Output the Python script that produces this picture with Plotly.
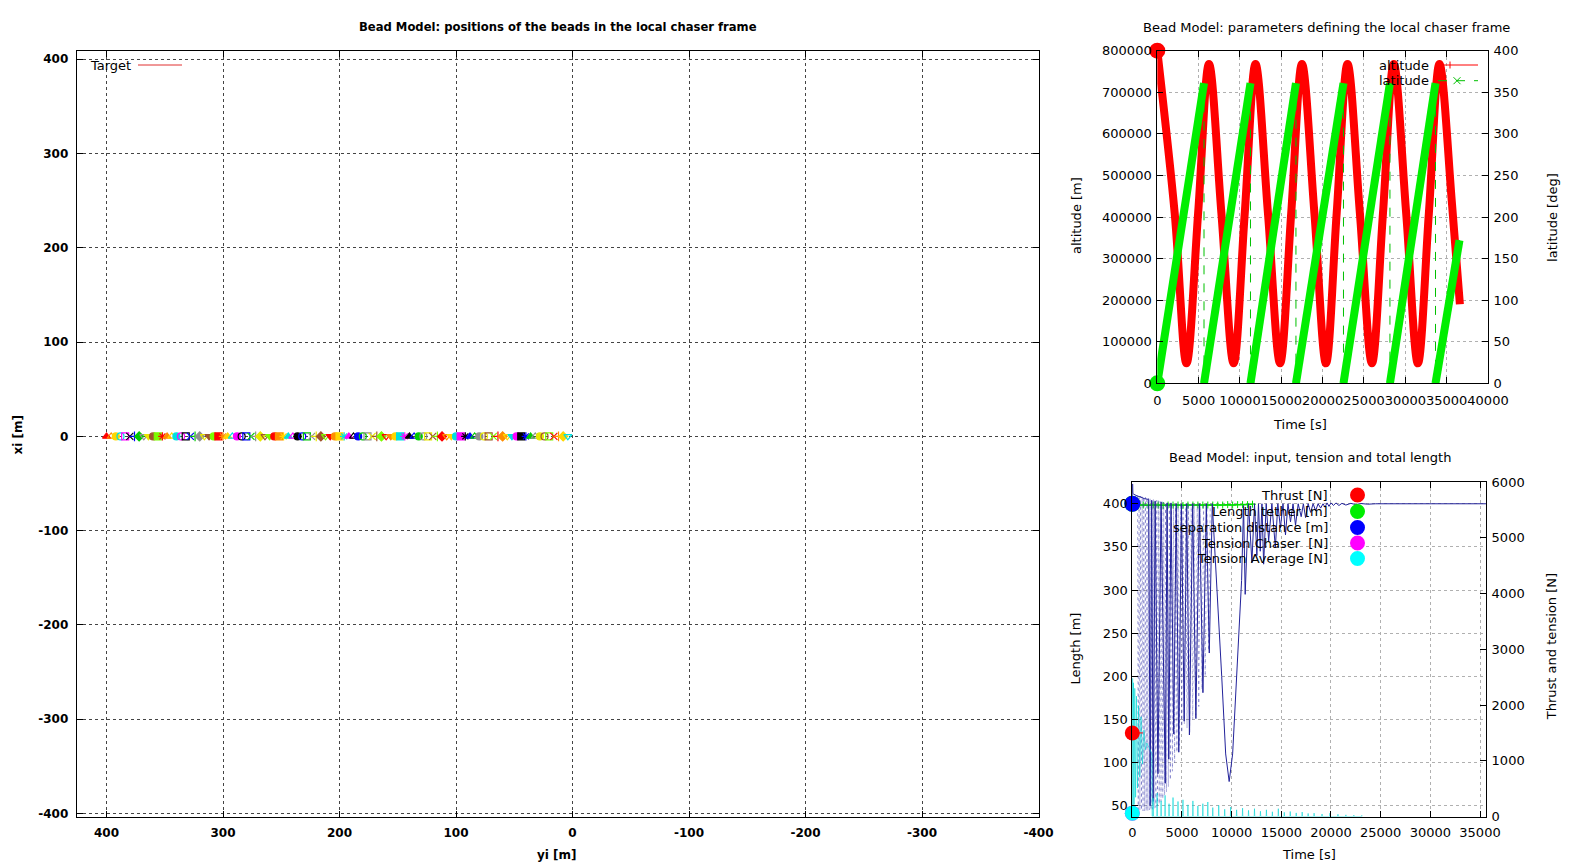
import plotly.graph_objects as go

W, H = 1584, 863
FONT = "DejaVu Sans"


def px(x):
    return x / W


def py(y):
    return 1 - y / H


# ---------------- data: left panel (bead positions) ----------------
bead_yi = [400, 396, 392, 388, 384, 380, 376, 372, 368, 364,
           360, 356, 352, 348, 344, 340, 336, 332, 328, 324,
           320, 316, 312, 308, 304, 300, 296, 292, 288, 284,
           280, 276, 272, 268, 264, 260, 256, 252, 248, 244,
           240, 236, 232, 228, 224, 220, 216, 212, 208, 204,
           200, 196, 192, 188, 184, 180, 176, 172, 168, 164,
           160, 156, 152, 148, 144, 140, 136, 132, 128, 124,
           120, 116, 112, 108, 104, 100, 96, 92, 88, 84,
           80, 76, 72, 68, 64, 60, 56, 52, 48, 44,
           40, 36, 32, 28, 24, 20, 16, 12, 8, 4]
bead_xi = [0, 0, 0, 0, 0, 0, 0, 0, 0, 0,
           0, 0, 0, 0, 0, 0, 0, 0, 0, 0,
           0, 0, 0, 0, 0, 0, 0, 0, 0, 0,
           0, 0, 0, 0, 0, 0, 0, 0, 0, 0,
           0, 0, 0, 0, 0, 0, 0, 0, 0, 0,
           0, 0, 0, 0, 0, 0, 0, 0, 0, 0,
           0, 0, 0, 0, 0, 0, 0, 0, 0, 0,
           0, 0, 0, 0, 0, 0, 0, 0, 0, 0,
           0, 0, 0, 0, 0, 0, 0, 0, 0, 0,
           0, 0, 0, 0, 0, 0, 0, 0, 0, 0]
pos_ticks = [400, 300, 200, 100, 0, -100, -200, -300, -400]
pos_tick_labels = ["400", "300", "200", "100", "0", "-100", "-200", "-300", "-400"]

# ---------------- data: top right (orbit parameters) ----------------
alt_t = [0, 2100, 3530, 4940, 6250, 7750, 9230, 10580, 11880, 13380, 14850, 16200, 17500,
         19000, 20400, 21700, 23010, 24500, 25960, 27300, 28600, 30100, 31520, 32850, 34130,
         35650, 36600]
alt_v = [800000, 410000, 48000, 410000, 768000, 410000, 48000, 410000, 768000, 410000, 48000,
         410000, 768000, 410000, 48000, 410000, 768000, 410000, 48000, 410000, 768000, 410000,
         48000, 410000, 768000, 430000, 190000]
lat_t = [0, 5650, 5650, 11270, 11270, 16770, 16770, 22520, 22520, 28140, 28140, 33650, 33650, 36550]
lat_v = [0, 361, 0, 361, 0, 361, 0, 361, 0, 361, 0, 361, 0, 172]

# ---------------- data: bottom right (input, tension, length) ----------------
sep_t = [0, 30, 60, 150, 300, 500, 800, 1200, 1650, 1800, 1950, 2100, 2300, 2580, 2900, 3320,
         3500, 3670, 3900, 4170, 4420, 4680, 4950, 5220, 5480, 5750, 6080, 6400, 6750, 7110,
         7450, 7750, 8050, 8500, 9000, 9400, 9750, 10100, 10500, 11000, 11200, 11365, 11700,
         12040, 12300, 12540, 12700, 12880, 13050, 13220, 13480, 13726, 14050, 14400, 14650,
         14910, 15170, 15420, 15670, 15925, 16180, 16430, 16700, 17000, 17220, 17440, 17700,
         17950, 18200, 18460, 18700, 18960, 19200, 19400, 19600, 19800, 20000, 20250, 20500,
         20800, 21100, 21500, 22000, 22500, 23000, 23700, 24500, 35600]
sep_v = [400, 423, 412, 411, 410, 409, 408, 406, 405, 50, 404, 55, 403, 87, 402, 76,
         401, 104, 401, 133, 400, 112, 400, 148, 400, 132, 400, 151, 400, 181,
         400, 227, 400, 311, 200, 110, 78, 110, 200, 311, 398, 295, 400,
         332, 400, 340, 400, 345, 400, 330, 400, 357, 400, 349, 400,
         372, 400, 364, 400, 379, 400, 375, 400, 385, 400, 384, 400,
         390, 400, 392, 400, 395, 400, 396, 401, 397, 401, 398, 401,
         398, 400.5, 398.5, 400.5, 399, 400.3, 399.5, 400, 400]
sep_fast_t = [520, 600, 680, 760, 840, 920, 1000, 1080, 1160, 1240, 1320, 1400, 1480, 1560,
              1640, 1720, 1800, 1880, 1960, 2040, 2120, 2200, 2285, 2370, 2455, 2540, 2625,
              2710, 2800, 2890, 2980, 3070, 3160, 3250, 3345, 3440, 3535, 3630, 3730, 3830,
              3935, 4040, 4150, 4260, 4375, 4490, 4610, 4730, 4855, 4980, 5110, 5240, 5375,
              5510, 5650, 5790, 5935, 6080, 6230, 6380, 6535, 6690, 6850, 7010, 7175, 7340,
              7510, 7680, 7850]
sep_fast_v = [410, 46, 409.5, 45, 409, 45, 408.5, 44, 408, 44, 407.5, 44, 407, 44,
              406.5, 45, 406, 45, 405.5, 46, 405, 47, 404.5, 48, 404, 50, 403.5,
              52, 403, 55, 402.5, 58, 402, 62, 401.5, 66, 401, 72, 400.5, 80,
              400, 90, 400, 100, 400, 112, 400, 120, 400, 135, 400, 145, 400,
              140, 400, 135, 400, 150, 400, 155, 400, 165, 400, 185, 400, 200,
              400, 230, 400]
len_t = [0, 150, 600, 1100, 1600, 2100, 2600, 3100, 3600, 4100, 4600, 5100, 5600, 6100,
         6600, 7100, 7600, 8100, 8600, 9100, 9600, 10100, 10600, 11100, 11600, 12100]
len_v = [400, 398.5, 398.5, 398.5, 398, 398.5, 398.5, 398, 398.5, 398.5, 398.5, 398, 398.5,
         398.5, 398.5, 398.5, 398.5, 398.5, 398.5, 398.5, 399, 398.5, 399, 399, 399, 399.5]
thrust_t = [0, 1060]
thrust_v = [1500, 1500]
tchaser_t = [0]
tchaser_v = [60]
tavg_t = [0, 30, 70, 120, 180, 250, 330, 420, 520, 630, 750, 880, 1020, 1170, 1320, 1460,
          1700, 1960, 2000]
tavg_v = [60, 2480, 120, 2400, 215, 2300, 345, 2160, 510, 1990, 710, 1790, 940, 1555, 1200,
          1320, 1220, 1130, 0]
tavg_spike_t = [2100, 2500, 2900, 3300, 3700, 4100, 4600, 5100, 5600, 6100, 6600, 7100, 7600,
                8100, 8700, 9300, 9900, 10500, 11100, 11700, 12300, 12900, 13500, 14100,
                14700, 15300, 15900, 16500, 17100, 17700, 18300, 19100, 19900, 20700, 21500,
                22300, 23100]
tavg_spike_v = [330, 420, 280, 380, 230, 340, 270, 300, 210, 280, 190, 230, 260, 160, 200,
                130, 170, 120, 150, 110, 140, 95, 120, 85, 140, 75, 90, 65, 80, 55, 60, 45,
                60, 40, 30, 25, 20]

# ---------------- styles ----------------
bead_color_cycle = ['#ff0000', '#ff8c00', '#ffd700', '#00e0e0', '#ff00ff', '#000000',
                    '#0000ff', '#00cc00', '#909090', '#e8e800', '#a0522d', '#7cfc00']
bead_symbol_cycle = ['triangle-up', 'triangle-up-open', 'circle', 'circle-open', 'square-open',
                     'x-thin', 'cross-thin', 'diamond', 'triangle-down-open', 'triangle-down',
                     'circle-dot', 'square', 'asterisk']
bead_colors = [bead_color_cycle[i % len(bead_color_cycle)] for i in range(len(bead_yi))]
bead_symbols = [bead_symbol_cycle[i % len(bead_symbol_cycle)] for i in range(len(bead_yi))]

fig = go.Figure()

# left panel
fig.add_trace(go.Scatter(
    x=bead_yi, y=bead_xi, mode='markers', xaxis='x', yaxis='y',
    marker=dict(symbol=bead_symbols, color=bead_colors, size=7,
                line=dict(color=bead_colors, width=1.2)),
    cliponaxis=False, name='beads'))

# top right
fig.add_trace(go.Scatter(
    x=alt_t, y=alt_v, mode='lines', xaxis='x2', yaxis='y2',
    line=dict(color='#ff0000', width=8, shape='spline', smoothing=1.0), name='altitude'))
fig.add_trace(go.Scatter(
    x=alt_t[:1], y=alt_v[:1], mode='markers', xaxis='x2', yaxis='y2',
    marker=dict(color='#ff0000', size=16), cliponaxis=False, name='altitude start'))

lat_thick_x, lat_thick_y = [], []
for i in range(0, len(lat_t) - 1, 2):
    lat_thick_x += [lat_t[i], lat_t[i + 1], None]
    lat_thick_y += [lat_v[i], lat_v[i + 1], None]
fig.add_trace(go.Scatter(
    x=lat_t, y=lat_v, mode='lines', xaxis='x2', yaxis='y3',
    line=dict(color='#00c000', width=1, dash='dash'), name='latitude drop'))
fig.add_trace(go.Scatter(
    x=lat_thick_x, y=lat_thick_y, mode='lines', xaxis='x2', yaxis='y3',
    line=dict(color='#00ee00', width=8), connectgaps=False, name='latitude'))
fig.add_trace(go.Scatter(
    x=lat_t[:1], y=lat_v[:1], mode='markers', xaxis='x2', yaxis='y3',
    marker=dict(color='#00ee00', size=16), cliponaxis=False, name='latitude start'))

# bottom right (left axis y4)
fig.add_trace(go.Scatter(
    x=len_t, y=len_v, mode='lines+markers', xaxis='x3', yaxis='y4',
    line=dict(color='#00dd00', width=1.5),
    marker=dict(symbol='cross-thin', size=5, line=dict(color='#00dd00', width=1)),
    name='Length tether'))
fig.add_trace(go.Scatter(
    x=sep_fast_t, y=sep_fast_v, mode='lines', xaxis='x3', yaxis='y4',
    line=dict(color='rgba(50,50,170,0.4)', width=1, dash='dot'), name='separation fast'))
fig.add_trace(go.Scatter(
    x=sep_t, y=sep_v, mode='lines', xaxis='x3', yaxis='y4',
    line=dict(color='#22229a', width=1), name='separation distance'))
fig.add_trace(go.Scatter(
    x=len_t[:1], y=len_v[:1], mode='markers', xaxis='x3', yaxis='y4',
    marker=dict(color='#00dd00', size=16), cliponaxis=False, name='len start'))
fig.add_trace(go.Scatter(
    x=sep_t[:1], y=sep_v[:1], mode='markers', xaxis='x3', yaxis='y4',
    marker=dict(color='#0000ff', size=16), cliponaxis=False, name='sep start'))

# bottom right (right axis y5)
spike_x, spike_y = [], []
for t, h in zip(tavg_spike_t, tavg_spike_v):
    spike_x += [t - 30, t, t + 30]
    spike_y += [0, h, 0]
fig.add_trace(go.Scatter(
    x=tchaser_t, y=tchaser_v, mode='markers', xaxis='x3', yaxis='y5',
    marker=dict(color='#ff00ff', size=15), cliponaxis=False, name='Tension Chaser'))
fig.add_trace(go.Scatter(
    x=tavg_t + spike_x, y=tavg_v + spike_y, mode='lines', xaxis='x3', yaxis='y5',
    line=dict(color='rgba(0,215,215,0.6)', width=1), name='Tension Average'))
fig.add_trace(go.Scatter(
    x=thrust_t, y=thrust_v, mode='lines', xaxis='x3', yaxis='y5',
    line=dict(color='#ff0000', width=1), name='Thrust'))
fig.add_trace(go.Scatter(
    x=thrust_t[:1], y=thrust_v[:1], mode='markers', xaxis='x3', yaxis='y5',
    marker=dict(color='#ff0000', size=15), cliponaxis=False, name='thrust start'))
fig.add_trace(go.Scatter(
    x=tavg_t[:1], y=tavg_v[:1], mode='markers', xaxis='x3', yaxis='y5',
    marker=dict(color='#00ffff', size=15), cliponaxis=False, name='tavg start'))

# ---------------- axes ----------------
bold_tick = dict(family=FONT, size=12, color='black', weight='bold')
reg_tick = dict(family=FONT, size=13, color='black')
left_common = dict(showline=True, linecolor='black', linewidth=1, mirror='ticks',
                   ticks='inside', ticklen=6, tickcolor='black', showgrid=True,
                   gridcolor='#444444', griddash='dot', gridwidth=1, zeroline=False,
                   tickfont=bold_tick, automargin=False, ticklabelstandoff=5)
right_common = dict(showline=True, linecolor='black', linewidth=1, ticks='inside',
                    ticklen=6, tickcolor='black', zeroline=False, tickfont=reg_tick,
                    tickangle=0, automargin=False)

layout = dict(
    width=W, height=H, autosize=False,
    margin=dict(l=0, r=0, t=0, b=0, pad=0, autoexpand=False),
    paper_bgcolor='white', plot_bgcolor='white', showlegend=False,
    font=dict(family=FONT, color='black'),
    xaxis=dict(domain=[px(76.7), px(1038.5)], anchor='y', range=[425.6, -400],
               tickvals=pos_ticks, ticktext=pos_tick_labels, tickangle=0, **left_common),
    yaxis=dict(domain=[py(816.5), py(50.7)], anchor='x', range=[-403.2, 409.1],
               tickvals=pos_ticks, ticktext=pos_tick_labels, **left_common),
    xaxis2=dict(domain=[px(1157.3), px(1488)], anchor='y2', range=[0, 40000], dtick=5000,
                tick0=0, tickformat='d', mirror='ticks', showgrid=True, gridcolor='#b0b0b0',
                griddash='dot', ticklabelstandoff=5, **right_common),
    yaxis2=dict(domain=[py(383.3), py(50.7)], anchor='x2', range=[0, 800000], dtick=100000,
                tick0=0, tickformat='d', showgrid=True, gridcolor='#b0b0b0', griddash='dot',
                ticklabelstandoff=2, **right_common),
    yaxis3=dict(overlaying='y2', side='right', anchor='x2', range=[0, 400], dtick=50, tick0=0,
                tickformat='d', showgrid=False, ticklabelstandoff=2, **right_common),
    xaxis3=dict(domain=[px(1132.3), px(1486)], anchor='y4', range=[0, 35604], dtick=5000,
                tick0=0, tickformat='d', mirror='ticks', showgrid=True, gridcolor='#b0b0b0',
                griddash='dot', ticklabelstandoff=4, **right_common),
    yaxis4=dict(domain=[py(816.5), py(482.2)], anchor='x3', range=[37.5, 425], dtick=50,
                tick0=0, tickformat='d', showgrid=True, gridcolor='#b0b0b0', griddash='dot',
                ticklabelstandoff=1, **right_common),
    yaxis5=dict(overlaying='y4', side='right', anchor='x3', range=[0, 6000], dtick=1000,
                tick0=0, tickformat='d', showgrid=False, ticklabelstandoff=2, **right_common),
)


def ann(text, x, y, size=13, bold=False, anchor='center', angle=0):
    return dict(text=text, x=px(x), y=py(y), xref='paper', yref='paper', showarrow=False,
                xanchor=anchor, yanchor='middle', textangle=angle,
                font=dict(family=FONT, size=size, color='black',
                          weight='bold' if bold else 'normal'))


annotations = [
    ann("Bead Model: positions of the beads in the local chaser frame", 557.6, 27.3, 11.6, True),
    ann("yi [m]", 556.6, 854.6, 12, True),
    ann("xi [m]", 18.2, 434.4, 12, True, angle=-90),
    ann("Target", 133, 65, 13, anchor='right'),
    ann("Bead Model: parameters defining the local chaser frame", 1326.4, 27.3, 13),
    ann("Time [s]", 1300, 424.3, 13),
    ann("altitude [m]", 1075.8, 215.2, 13, angle=-90),
    ann("latitude [deg]", 1551.7, 217.2, 13, angle=-90),
    ann("altitude", 1431, 65, 13, anchor='right'),
    ann("latitude", 1431, 80.7, 13, anchor='right'),
    ann("Bead Model: input, tension and total length", 1310.2, 457.6, 13),
    ann("Time [s]", 1309.2, 854.6, 13),
    ann("Length [m]", 1075.8, 648.6, 13, angle=-90),
    ann("Thrust and tension [N]", 1551.7, 646.5, 13, angle=-90),
]
legend_rows = [("Thrust [N]", '#ff0000', 495),
               ("Length tether [m]", '#00ee00', 511.5),
               ("separation distance [m]", '#0000ff', 527.5),
               ("Tension Chaser \u00a0[N]", '#ff00ff', 543),
               ("Tension Average [N]", '#00ffff', 558.5)]
shapes = []
for label, col, yy in legend_rows:
    annotations.append(ann(label, 1329.5, yy, 13, anchor='right'))
    shapes.append(dict(type='circle', xref='paper', yref='paper', xsizemode='pixel',
                       ysizemode='pixel', xanchor=px(1357.5), yanchor=py(yy),
                       x0=-7.5, x1=7.5, y0=-7.5, y1=7.5, fillcolor=col,
                       line=dict(color=col, width=0)))

# legend samples (gnuplot style, sample on the right of the text)
shapes += [
    dict(type='line', xref='paper', yref='paper', x0=px(138), x1=px(182), y0=py(65), y1=py(65),
         line=dict(color='#e03030', width=1)),
    dict(type='line', xref='paper', yref='paper', x0=px(1438), x1=px(1478), y0=py(65),
         y1=py(65), line=dict(color='#ff0000', width=1)),
    dict(type='line', xref='paper', yref='paper', x0=px(1450), x1=px(1450), y0=py(61.5),
         y1=py(68.5), line=dict(color='#ff0000', width=1)),
    dict(type='line', xref='paper', yref='paper', x0=px(1438), x1=px(1478), y0=py(80.7),
         y1=py(80.7), line=dict(color='#00c000', width=1, dash='dash')),
    dict(type='line', xref='paper', yref='paper', x0=px(1453.5), x1=px(1460.5), y0=py(77.2),
         y1=py(84.2), line=dict(color='#00c000', width=1)),
    dict(type='line', xref='paper', yref='paper', x0=px(1453.5), x1=px(1460.5), y0=py(84.2),
         y1=py(77.2), line=dict(color='#00c000', width=1)),
]

layout['annotations'] = annotations
layout['shapes'] = shapes
fig.update_layout(**layout)

fig.write_html("out.html")
